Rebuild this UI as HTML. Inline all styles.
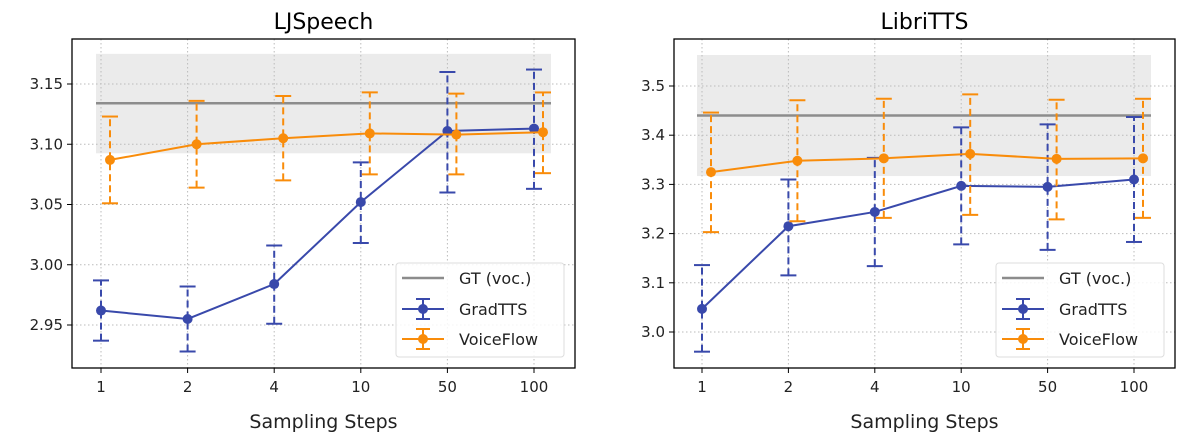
<!DOCTYPE html>
<html><head><meta charset="utf-8"><style>
body{margin:0;background:#fff;width:1200px;height:437px;overflow:hidden}
svg{font-family:"DejaVu Sans","Liberation Sans",sans-serif}
</style></head><body>
<svg id="fig" width="1200" height="437"></svg>
<script>
const categories=["1","2","4","10","50","100"];
const ljGrad=[2.962,2.955,2.984,3.052,3.111,3.113];
const ljGradLo=[2.937,2.928,2.951,3.018,3.060,3.063];
const ljGradHi=[2.987,2.982,3.016,3.085,3.160,3.162];
const ljVoice=[3.087,3.100,3.105,3.109,3.108,3.110];
const ljVoiceLo=[3.051,3.064,3.070,3.075,3.075,3.076];
const ljVoiceHi=[3.123,3.136,3.140,3.143,3.142,3.143];
const ljGT=3.134, ljBand=[3.0925,3.175];
const ljTicks=[2.95,3.00,3.05,3.10,3.15];
const ljTickLabels=["2.95","3.00","3.05","3.10","3.15"];
const ltGrad=[3.047,3.215,3.244,3.297,3.295,3.310];
const ltGradLo=[2.960,3.115,3.134,3.178,3.167,3.183];
const ltGradHi=[3.136,3.310,3.354,3.416,3.422,3.437];
const ltVoice=[3.325,3.348,3.353,3.362,3.352,3.353];
const ltVoiceLo=[3.203,3.225,3.232,3.238,3.229,3.232];
const ltVoiceHi=[3.446,3.471,3.474,3.483,3.472,3.474];
const ltGT=3.440, ltBand=[3.317,3.563];
const ltTicks=[3.0,3.1,3.2,3.3,3.4,3.5];
const ltTickLabels=["3.0","3.1","3.2","3.3","3.4","3.5"];

const NS="http://www.w3.org/2000/svg";
const svg=document.getElementById('fig');
function mk(tag,attrs,parent){const e=document.createElementNS(NS,tag);for(const k in attrs)e.setAttribute(k,attrs[k]);(parent||svg).appendChild(e);return e;}
const BLUE="#3949ab",ORANGE="#f98c0a";

function panel(o){
  const g=mk('g',{});
  
  
  const X=i=>o.x1+i*(o.x2-o.x1)/5;
  const Y=v=>o.yA+(v-o.vA)*(o.yB-o.yA)/(o.vB-o.vA);
  // band
  const band=mk('rect',{x:o.bx1,y:Y(o.band[1]),width:o.bx2-o.bx1,height:Y(o.band[0])-Y(o.band[1]),fill:'#ebebeb'},g);
  
  
  // grid
  categories.forEach((c,i)=>{const l=mk('line',{x1:X(i),x2:X(i),y1:o.top,y2:o.bot,stroke:'#bbb','stroke-width':1,'stroke-dasharray':'1.5,2.5'},g);
    });
  o.ticks.forEach((v,i)=>{const l=mk('line',{x1:o.left,x2:o.right,y1:Y(v),y2:Y(v),stroke:'#bbb','stroke-width':1,'stroke-dasharray':'1.5,2.5'},g);
    
    const t=mk('line',{x1:o.left-5,x2:o.left,y1:Y(v),y2:Y(v),stroke:'#000'},g);
    const tx=mk('text',{x:o.left-9,y:Y(v)+5,'text-anchor':'end','font-size':15,fill:'#222'},g);tx.textContent=o.tickLabels[i];
    });
  // GT
  const gt=mk('line',{x1:o.bx1,x2:o.bx2,y1:Y(o.gt),y2:Y(o.gt),stroke:'#8c8c8c','stroke-width':2.5},g);
  
  function series(vals,lo,hi,color,off,nm){
    const sg=mk('g',{},g);
    
    vals.forEach((v,i)=>{const x=X(i)+off;
      mk('line',{x1:x,x2:x,y1:Y(lo[i]),y2:Y(hi[i]),stroke:color,'stroke-width':2,'stroke-dasharray':'7,4'},sg);
      mk('line',{x1:x-8,x2:x+8,y1:Y(lo[i]),y2:Y(lo[i]),stroke:color,'stroke-width':2},sg);
      mk('line',{x1:x-8,x2:x+8,y1:Y(hi[i]),y2:Y(hi[i]),stroke:color,'stroke-width':2},sg);});
    mk('polyline',{points:vals.map((v,i)=>(X(i)+off)+','+Y(v)).join(' '),fill:'none',stroke:color,'stroke-width':2},sg);
    vals.forEach((v,i)=>{const c=mk('circle',{cx:X(i)+off,cy:Y(v),r:5,fill:color},sg);
      });
  }
  series(o.grad,o.gradLo,o.gradHi,BLUE,0,'gradtts');
  series(o.voice,o.voiceLo,o.voiceHi,ORANGE,9,'voiceflow');
  // frame
  const fr=mk('rect',{x:o.left,y:o.top,width:o.right-o.left,height:o.bot-o.top,fill:'none',stroke:'#000','stroke-width':1.3},g);
  
  categories.forEach((c,i)=>{mk('line',{x1:X(i),x2:X(i),y1:o.bot,y2:o.bot+5,stroke:'#000'},g);
    const t=mk('text',{x:X(i),y:o.bot+24,'text-anchor':'middle','font-size':15,fill:'#222'},g);t.textContent=c;
    });
  const ti=mk('text',{x:(o.left+o.right)/2,y:29,'text-anchor':'middle','font-size':22,fill:'#000'},g);ti.textContent=o.title;
  
  const xl=mk('text',{x:(o.left+o.right)/2,y:428,'text-anchor':'middle','font-size':19,fill:'#222'},g);xl.textContent='Sampling Steps';
  
  // legend
  const lg=mk('g',{},g);
  
  const lx=o.right-179;
  mk('rect',{x:lx,y:263,width:168,height:94,rx:3,fill:'rgba(255,255,255,0.85)',stroke:'#ddd'},lg);
  mk('line',{x1:lx+6,x2:lx+48,y1:278,y2:278,stroke:'#8c8c8c','stroke-width':2.5},lg);
  [[BLUE,309],[ORANGE,339]].forEach(([c,y])=>{mk('line',{x1:lx+6,x2:lx+48,y1:y,y2:y,stroke:c,'stroke-width':2},lg);
    mk('line',{x1:lx+27,x2:lx+27,y1:y-10,y2:y+10,stroke:c,'stroke-width':2},lg);
    mk('line',{x1:lx+20,x2:lx+34,y1:y-10,y2:y-10,stroke:c,'stroke-width':2},lg);
    mk('line',{x1:lx+20,x2:lx+34,y1:y+10,y2:y+10,stroke:c,'stroke-width':2},lg);
    mk('circle',{cx:lx+27,cy:y,r:5,fill:c},lg);});
  [['GT (voc.)',278],['GradTTS',309],['VoiceFlow',339]].forEach(([s,y])=>{const t=mk('text',{x:lx+63,y:y+6,'font-size':16,fill:'#222'},lg);t.textContent=s;
    });
}
panel({name:'ljspeech',title:'LJSpeech',left:72,right:575,top:39,bot:368,x1:101,x2:534,bx1:96,bx2:551,
  yA:84,vA:3.15,yB:325,vB:2.95,ticks:ljTicks,tickLabels:ljTickLabels,gt:ljGT,band:ljBand,
  grad:ljGrad,gradLo:ljGradLo,gradHi:ljGradHi,voice:ljVoice,voiceLo:ljVoiceLo,voiceHi:ljVoiceHi});
panel({name:'libritts',title:'LibriTTS',left:674,right:1175,top:39,bot:368,x1:702,x2:1134,bx1:697,bx2:1151,
  yA:86,vA:3.5,yB:332,vB:3.0,ticks:ltTicks,tickLabels:ltTickLabels,gt:ltGT,band:ltBand,
  grad:ltGrad,gradLo:ltGradLo,gradHi:ltGradHi,voice:ltVoice,voiceLo:ltVoiceLo,voiceHi:ltVoiceHi});
</script>
</body></html>
